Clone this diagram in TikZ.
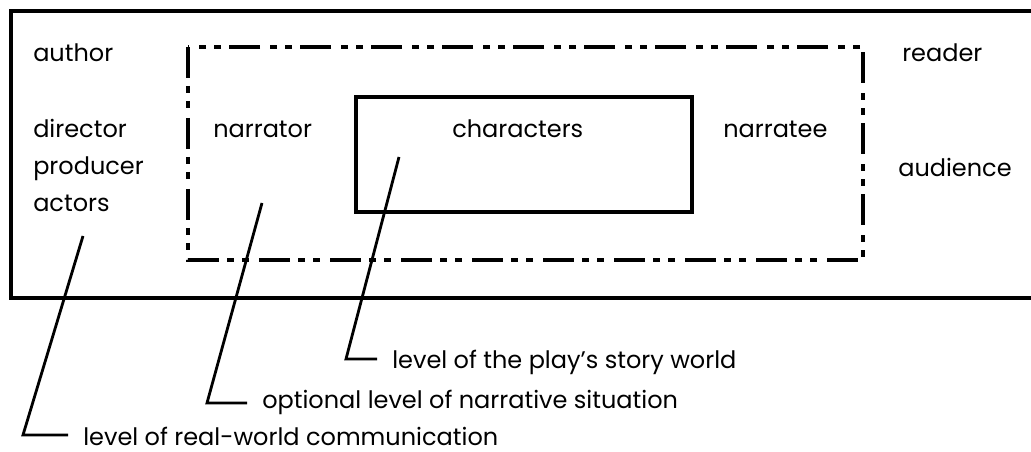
\documentclass[tikz,border=0pt]{standalone}
\usepackage{fontspec}
\setmainfont{Poppins}
\usetikzlibrary{positioning}
\tikzset{
  frame/.style    = {draw, line width=2.5pt},
  dashframe/.style = {draw, line width=2.5pt,
                     dash pattern=on 23.25pt off 6pt on 5.25pt off 6pt on 5.25pt off 7.5pt},
  leader/.style   = {line width=2.1pt},
  role/.style     = {anchor=base west, inner sep=0pt, font=\fontsize{18}{21}\selectfont},
  levellab/.style = {role, inner xsep=11.25pt},
}

\begin{document}
\begin{tikzpicture}[x=0.75pt, y=-0.75pt]
\useasboundingbox (0,0) rectangle (1031,452);
\clip (0,0) rectangle (1031,452);

% ---------- Frames ----------
\draw[frame] (11,11) rectangle (1045,298);
\draw[dashframe] (188,47) rectangle (863,260);
\draw[frame] (356,97) rectangle (692,212);

% ---------- Roles ----------
\node[role] (author) at (33,62) {author};
\node[role] (director) at (33,138) {director};
\node[role] (producer) at (33,175) {producer};
\node[role] (actors) at (33,212) {actors};
\node[role] (narrator) at (213,138) {narrator};
\node[role] (characters) at (452,138) {characters};
\node[role] (narratee) at (723,138) {narratee};
\node[role] (reader) at (902,62) {reader};
\node[role] (audience) at (898,177) {audience};

% ---------- Levels ----------
\coordinate (storytop) at (399,157);
\coordinate (storycorner) at (346,359);
\node[levellab] (storylab) at (377,368) {level of the play's story world};

\coordinate (narrtop) at (262,203);
\coordinate (narrcorner) at (207,403);
\node[levellab] (narrlab) at (247,408) {optional level of narrative situation};

\coordinate (realtop) at (83,236);
\coordinate (realcorner) at (23,435);
\node[levellab] (reallab) at (68,445) {level of real-world communication};

\draw[leader] (storytop) -- (storycorner) -- (storycorner -| storylab.west);
\draw[leader] (narrtop) -- (narrcorner) -- (narrcorner -| narrlab.west);
\draw[leader] (realtop) -- (realcorner) -- (realcorner -| reallab.west);

\end{tikzpicture}
\end{document}
